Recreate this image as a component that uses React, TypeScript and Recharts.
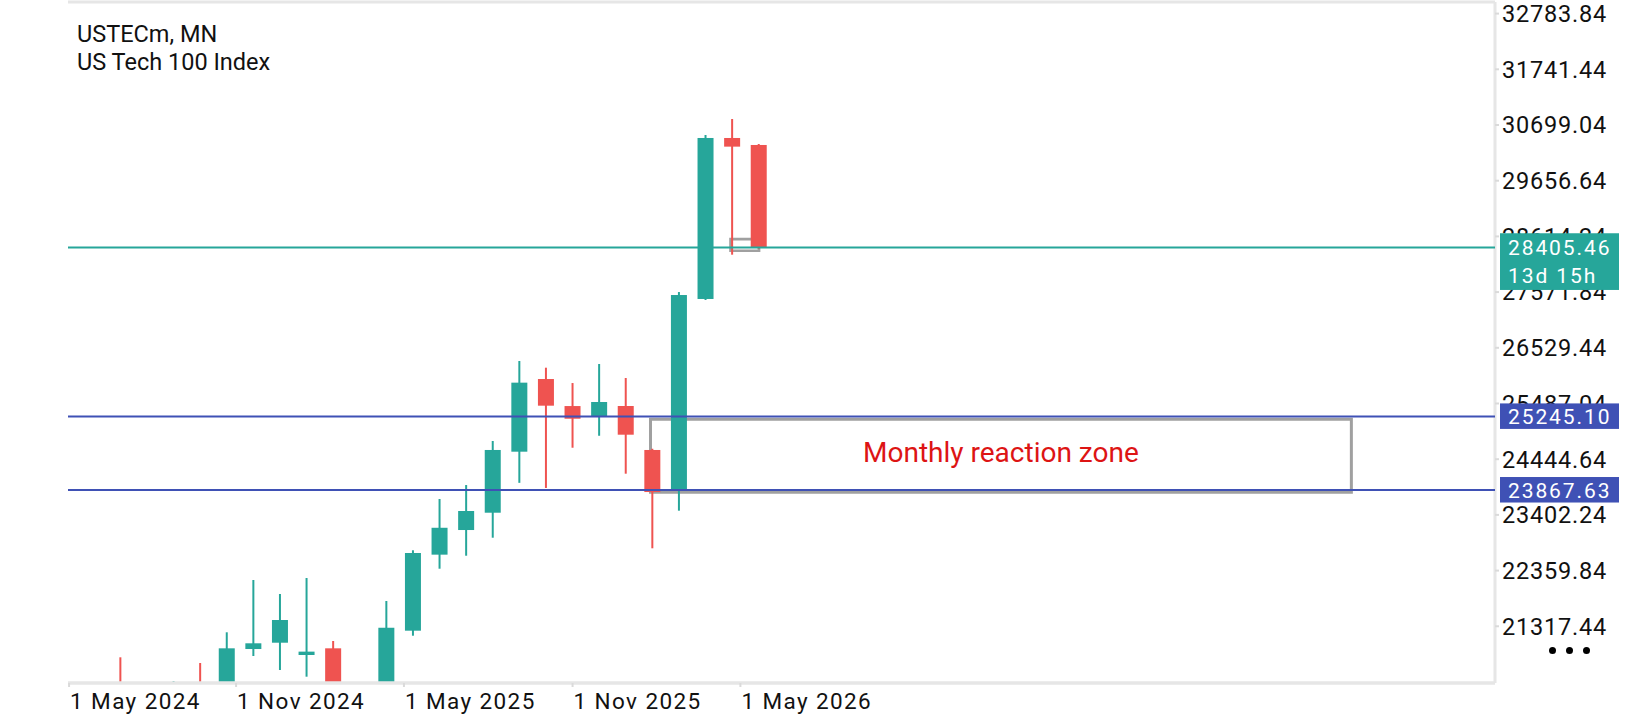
import React from "react";
import {
  Bar,
  ComposedChart,
  ReferenceArea,
  ReferenceLine,
  XAxis,
  YAxis,
} from "recharts";

// monthly candles, Jul 2024 .. Jul 2026 (index 0 = Jul 2024)
const months = [
  "Jul 2024", "Aug 2024", "Sep 2024", "Oct 2024", "Nov 2024", "Dec 2024",
  "Jan 2025", "Feb 2025", "Mar 2025", "Apr 2025", "May 2025", "Jun 2025",
  "Jul 2025", "Aug 2025", "Sep 2025", "Oct 2025", "Nov 2025", "Dec 2025",
  "Jan 2026", "Feb 2026", "Mar 2026", "Apr 2026", "May 2026", "Jun 2026",
  "Jul 2026",
];
const opens = [
  19800, 19360, 19570, 20060, 19900, 20892, 21010, 20780, 20905, 19280, 19570, 21235,
  22658, 23119, 23443, 24585, 25945, 25439, 25240, 25440, 24617, 23868, 27443, 30456,
  30325,
];
const highs = [
  20737, 19980, 20293, 20630, 21205, 22184, 21922, 22221, 21042, 20200, 21791, 22740,
  23700, 23961, 24785, 26282, 26157, 25870, 26226, 25964, 24640, 27573, 30512, 30811,
  30344,
];
const lows = [
  18410, 17150, 18500, 19680, 19800, 20761, 20499, 20374, 19150, 16540, 19500, 21141,
  22395, 22638, 22975, 24002, 23906, 24659, 24883, 24173, 22777, 23481, 27424, 28272,
  28380,
];
const closes = [
  19360, 19570, 20060, 20000, 20905, 20999, 21435, 20843, 19280, 19570, 21290, 22689,
  23161, 23475, 24617, 25877, 25446, 25202, 25515, 24903, 23830, 27517, 30456, 30294,
  28405.46,
];

const xTickPositions = [-1.94, 4.34, 10.65, 16.99, 23.3];
const xTickLabels = ["1 May 2024", "1 Nov 2024", "1 May 2025", "1 Nov 2025", "1 May 2026"];
const yTicks = [
  21317.44, 22359.84, 23402.24, 24444.64, 25487.04, 26529.44,
  27571.84, 28614.24, 29656.64, 30699.04, 31741.44, 32783.84,
];

const lastPrice = 28405.46;
const timeLeft = "13d 15h";
const zoneHigh = 25245.1;
const zoneLow = 23867.63;
const zoneText = "Monthly reaction zone";

const X_DOMAIN: [number, number] = [-1.98, 51.67];
const Y_DOMAIN: [number, number] = [20256, 33001];

const GREEN = "#26A69A";
const RED = "#EF5350";
const BLUE = "#3F51B5";
const FRAME = "#E6E6E6";
const BOX = "#A0A0A0";

const data = months.map((m, i) => ({
  i,
  month: m,
  o: opens[i],
  h: highs[i],
  l: lows[i],
  c: closes[i],
  range: [lows[i], highs[i]],
}));

const margin = { top: 2, right: 0, bottom: 0, left: 68 };

const Candle = (props: any) => {
  const { x, y, width, height, payload } = props;
  if (!payload || !(height > 0)) return null;
  const ppu = height / (payload.h - payload.l);
  const yOf = (v: number) => y + (payload.h - v) * ppu;
  const cx = x + width / 2;
  const color = payload.c >= payload.o ? GREEN : RED;
  const top = yOf(Math.max(payload.o, payload.c));
  const bottom = yOf(Math.min(payload.o, payload.c));
  return (
    <g>
      <line x1={cx} x2={cx} y1={y} y2={y + height} stroke={color} strokeWidth={2} />
      <rect x={cx - 8} y={top} width={16} height={Math.max(bottom - top, 2)} fill={color} />
    </g>
  );
};

const XTick = (props: any) => {
  const { x, y, payload } = props;
  const idx = xTickPositions.indexOf(payload.value);
  return (
    <text
      x={x + 1}
      y={y}
      dy={20}
      textAnchor="start"
      fontFamily="Roboto"
      fontSize={22.5}
      letterSpacing={1.4}
      fill="#111"
    >
      {xTickLabels[idx]}
    </text>
  );
};

const YTick = (props: any) => {
  const { x, y, payload } = props;
  return (
    <text
      x={x + 1}
      y={y}
      dy="0.355em"
      textAnchor="start"
      fontFamily="Roboto"
      fontSize={23.5}
      letterSpacing={0.8}
      fill="#111"
    >
      {payload.value.toFixed(2)}
    </text>
  );
};

const PriceTag = (props: any) => {
  const { viewBox, color, lines } = props;
  if (!viewBox) return null;
  const left = viewBox.x + viewBox.width + 5;
  const y0 = viewBox.y;
  const tall = lines.length > 1;
  const top = tall ? y0 - 14.3 : y0 - 13;
  const h = tall ? 56.7 : 25.5;
  return (
    <g>
      <rect x={left} y={top} width={119} height={h} fill={color} />
      {lines.map((t: string, k: number) => (
        <text
          key={k}
          x={left + 8}
          y={y0 + 7.5 + k * 28.3}
          fontFamily="Roboto"
          fontSize={21}
          letterSpacing={1.9}
          fill="#fff"
        >
          {t}
        </text>
      ))}
    </g>
  );
};

const ZoneLabel = (props: any) => {
  const { viewBox } = props;
  if (!viewBox) return null;
  return (
    <text
      x={viewBox.x + viewBox.width / 2}
      y={viewBox.y + viewBox.height / 2 - 4}
      dy="0.355em"
      textAnchor="middle"
      fontFamily="Roboto"
      fontSize={28}
      fill="#DD1414"
    >
      {zoneText}
    </text>
  );
};

const layer: React.CSSProperties = { position: "absolute", left: 0, top: 0 };

export default function App() {
  return (
    <div
      style={{
        position: "absolute",
        left: 0,
        top: 0,
        width: 1640,
        height: 720,
        background: "#fff",
        overflow: "hidden",
      }}
    >
      <div style={layer}>
        <ComposedChart width={1640} height={720} data={data} margin={margin}>
          <XAxis
            dataKey="i"
            type="number"
            domain={X_DOMAIN}
            allowDataOverflow
            ticks={xTickPositions}
            interval={0}
            height={37}
            tickSize={4}
            tickLine={{ stroke: "#DADADA", strokeWidth: 2 }}
            axisLine={{ stroke: FRAME, strokeWidth: 3.5 }}
            tick={<XTick />}
          />
          <YAxis
            orientation="right"
            type="number"
            width={145}
            domain={Y_DOMAIN}
            allowDataOverflow
            ticks={yTicks}
            interval={0}
            tickSize={4}
            tickLine={{ stroke: "#DADADA", strokeWidth: 2 }}
            axisLine={{ stroke: FRAME, strokeWidth: 3 }}
            tick={<YTick />}
          />
          <ReferenceLine y={Y_DOMAIN[1]} stroke={FRAME} strokeWidth={3} />
          <Bar
            dataKey="range"
            barSize={16}
            shape={<Candle />}
            isAnimationActive={false}
          />
          <ReferenceArea
            x1={19.92}
            x2={46.27}
            y1={23825}
            y2={25193}
            fill="none"
            stroke={BOX}
            strokeWidth={3}
            label={<ZoneLabel />}
          />
          <ReferenceArea
            x1={22.93}
            x2={24.0}
            y1={28346}
            y2={28565}
            fill="none"
            stroke={BOX}
            strokeWidth={2.7}
          />
        </ComposedChart>
      </div>
      {/* price lines and their tags sit above the axis labels */}
      <div style={{ ...layer, pointerEvents: "none" }}>
        <ComposedChart width={1640} height={720} data={data} margin={margin}>
          <XAxis
            dataKey="i"
            type="number"
            domain={X_DOMAIN}
            allowDataOverflow
            height={37}
            tick={false}
            tickLine={false}
            axisLine={false}
          />
          <YAxis
            orientation="right"
            type="number"
            width={145}
            domain={Y_DOMAIN}
            allowDataOverflow
            tick={false}
            tickLine={false}
            axisLine={false}
          />
          <ReferenceLine
            y={lastPrice}
            stroke={GREEN}
            strokeWidth={2}
            label={<PriceTag color={GREEN} lines={[lastPrice.toFixed(2), timeLeft]} />}
          />
          <ReferenceLine
            y={zoneHigh}
            stroke={BLUE}
            strokeWidth={2}
            label={<PriceTag color={BLUE} lines={[zoneHigh.toFixed(2)]} />}
          />
          <ReferenceLine
            y={zoneLow}
            stroke={BLUE}
            strokeWidth={2}
            label={<PriceTag color={BLUE} lines={[zoneLow.toFixed(2)]} />}
          />
        </ComposedChart>
      </div>
      <div
        style={{
          position: "absolute",
          left: 77,
          top: 19.5,
          fontFamily: "Roboto",
          fontSize: 23.5,
          lineHeight: "28.3px",
          color: "#111",
          whiteSpace: "pre",
        }}
      >
        {"USTECm, MN\nUS Tech 100 Index"}
      </div>
      {[1552, 1569, 1586].map((cx) => (
        <div
          key={cx}
          style={{
            position: "absolute",
            left: cx - 3.5,
            top: 650 - 3.5,
            width: 7,
            height: 7,
            borderRadius: "50%",
            background: "#000",
          }}
        />
      ))}
    </div>
  );
}
